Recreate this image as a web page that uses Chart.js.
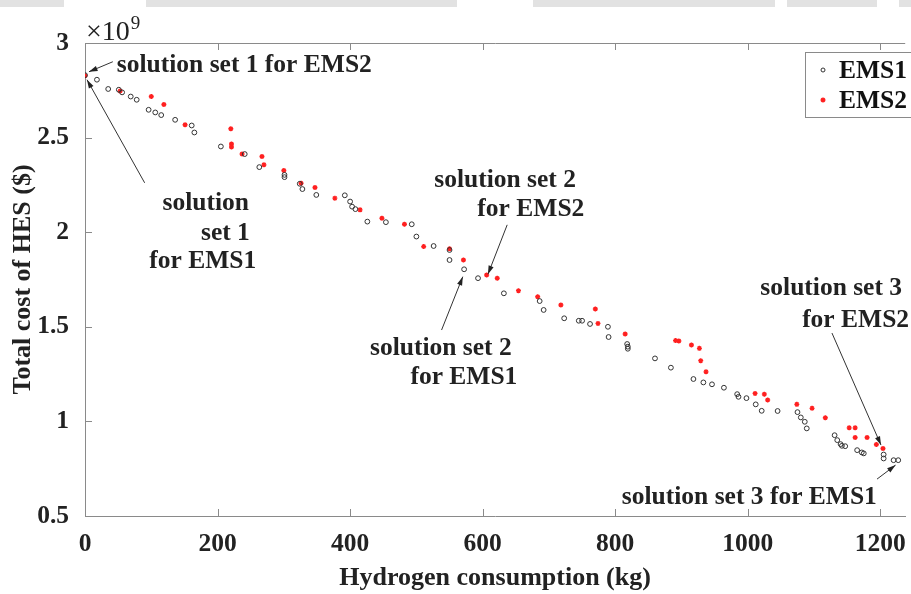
<!DOCTYPE html>
<html>
<head>
<meta charset="utf-8">
<script src="https://cdn.jsdelivr.net/npm/chart.js@4"></script>
<style>
  body { margin: 0; background: #fff; }
  #wrap { width: 911px; height: 594px; }
</style>
</head>
<body>
<div id="wrap"><canvas id="paretoChart" width="911" height="594"></canvas></div>
<script>
// Hydrogen consumption (kg) vs total cost (x10^9 $)
const ems1X = [0, 18, 35, 51, 56, 69, 78, 96, 106, 115, 136, 161, 165, 205, 241, 263, 301, 301, 324, 328,
    349, 392, 400, 403, 408, 426, 454, 493, 500, 526, 550, 550, 572, 593, 632, 686, 692, 723, 745, 750,
    762, 789, 790, 818, 819, 819, 860, 884, 918, 933, 946, 964, 984, 986, 998, 1012, 1021, 1045, 1075, 1080,
    1086, 1089, 1131, 1135, 1140, 1142, 1147, 1165, 1172, 1175, 1205, 1205, 1220, 1227];
const ems1Y = [2.83, 2.806, 2.757, 2.753, 2.739, 2.717, 2.70, 2.647, 2.633, 2.619, 2.594, 2.564, 2.527, 2.453, 2.413, 2.344, 2.303, 2.291, 2.256, 2.228,
    2.197, 2.195, 2.162, 2.135, 2.122, 2.056, 2.053, 2.042, 1.977, 1.927, 1.906, 1.853, 1.804, 1.757, 1.677, 1.636, 1.589, 1.545, 1.532, 1.532,
    1.515, 1.50, 1.446, 1.409, 1.395, 1.384, 1.333, 1.284, 1.224, 1.206, 1.196, 1.178, 1.144, 1.130, 1.123, 1.090, 1.056, 1.055, 1.049, 1.021,
    0.998, 0.963, 0.927, 0.901, 0.880, 0.871, 0.869, 0.848, 0.836, 0.831, 0.825, 0.804, 0.795, 0.795];

const ems2X = [0, 53, 100, 119, 151, 220, 221, 221, 237, 267, 270, 300, 326, 347, 377, 415, 448, 482, 511, 550,
    571, 606, 622, 654, 683, 718, 770, 774, 815, 891, 896, 915, 927, 929, 937, 1011, 1025, 1030, 1074, 1097,
    1117, 1153, 1162, 1162, 1180, 1194, 1204];
const ems2Y = [2.827, 2.746, 2.717, 2.675, 2.568, 2.547, 2.466, 2.450, 2.413, 2.40, 2.356, 2.326, 2.259, 2.236, 2.18, 2.118, 2.074, 2.042, 1.924, 1.912,
    1.853, 1.774, 1.757, 1.691, 1.659, 1.615, 1.594, 1.518, 1.462, 1.427, 1.425, 1.404, 1.386, 1.321, 1.262, 1.148, 1.144, 1.113, 1.090, 1.069,
    1.019, 0.966, 0.966, 0.915, 0.915, 0.878, 0.857];

const xTicks = [0, 200, 400, 600, 800, 1000, 1200];
const yTicks = [0.5, 1, 1.5, 2, 2.5, 3];
const seriesNames = ['EMS1', 'EMS2'];

// annotation text (data coords of left/middle) and arrows [fromX, fromY, toX, toY]
const noteTexts = [
    ['solution set 1 for EMS2', 48, 2.88],
    ['solution', 117, 2.154],
    ['set 1', 175, 1.996],
    ['for EMS1', 97, 1.843],
    ['solution set 2', 527, 2.276],
    ['for EMS2', 592, 2.122],
    ['solution set 2', 430, 1.388],
    ['for EMS1', 491, 1.235],
    ['solution set 3', 1019, 1.705],
    ['for EMS2', 1082, 1.534],
    ['solution set 3 for EMS1', 810, 0.60]
];
const noteArrows = [
    [42, 2.901, 6, 2.848],
    [90, 2.261, 3, 2.806],
    [637, 2.039, 608, 1.778],
    [538, 1.483, 570, 1.765],
    [1127, 1.467, 1201, 0.875],
    [1195, 0.695, 1223, 0.769]
];

const serif = "'Liberation Serif', 'Times New Roman', serif";

const toPoints = (xs, ys) => xs.map((x, i) => ({ x: x, y: ys[i] }));

// 프레임, 안쪽 눈금, 주석, 범례 그리기
const decorPlugin = {
    id: 'decor',
    beforeDraw(chart) {
        const ctx = chart.ctx;
        ctx.save();
        // top scan band of the source image
        ctx.fillStyle = '#e2e2e2';
        ctx.fillRect(0, 0, 911, 7);
        ctx.fillStyle = '#ffffff';
        ctx.fillRect(64, 0, 82, 7);
        ctx.fillRect(457, 0, 76, 7);
        ctx.fillRect(775, 0, 12, 7);
        ctx.fillRect(877, 0, 22, 7);
        ctx.restore();
    },
    afterDraw(chart) {
        const ctx = chart.ctx;
        const xs = chart.scales.x, ys = chart.scales.y;
        const a = chart.chartArea;
        ctx.save();
        ctx.strokeStyle = '#8a8a8a';
        ctx.lineWidth = 1;
        ctx.beginPath();
        ctx.moveTo(a.left + 0.5, a.top + 0.5);
        ctx.lineTo(a.right, a.top + 0.5);
        xs.ticks.forEach(t => {
            const px = Math.round(xs.getPixelForValue(t.value)) + 0.5;
            ctx.moveTo(px, a.bottom);
            ctx.lineTo(px, a.bottom - 7);
            ctx.moveTo(px, a.top);
            ctx.lineTo(px, a.top + 7);
        });
        ys.ticks.forEach(t => {
            const py = Math.round(ys.getPixelForValue(t.value)) + 0.5;
            ctx.moveTo(a.left, py);
            ctx.lineTo(a.left + 7, py);
        });
        ctx.stroke();

        // x10^9
        ctx.fillStyle = '#222';
        ctx.textBaseline = 'alphabetic';
        ctx.textAlign = 'left';
        ctx.font = '28px ' + serif;
        ctx.fillText('\u00d710', 86, 40);
        const w = ctx.measureText('\u00d710').width;
        ctx.font = '19px ' + serif;
        ctx.fillText('9', 86 + w + 1, 29);

        // annotation texts
        ctx.font = 'bold 25.5px ' + serif;
        ctx.textBaseline = 'middle';
        noteTexts.forEach(n => {
            ctx.fillText(n[0], xs.getPixelForValue(n[1]), ys.getPixelForValue(n[2]));
        });

        // arrows
        ctx.strokeStyle = '#333';
        ctx.fillStyle = '#222';
        noteArrows.forEach(ar => {
            const x1 = xs.getPixelForValue(ar[0]), y1 = ys.getPixelForValue(ar[1]);
            const x2 = xs.getPixelForValue(ar[2]), y2 = ys.getPixelForValue(ar[3]);
            const ang = Math.atan2(y2 - y1, x2 - x1);
            ctx.beginPath();
            ctx.moveTo(x1, y1);
            ctx.lineTo(x2, y2);
            ctx.stroke();
            ctx.beginPath();
            ctx.moveTo(x2, y2);
            ctx.lineTo(x2 - 9 * Math.cos(ang - 0.3), y2 - 9 * Math.sin(ang - 0.3));
            ctx.lineTo(x2 - 9 * Math.cos(ang + 0.3), y2 - 9 * Math.sin(ang + 0.3));
            ctx.closePath();
            ctx.fill();
        });

        // legend
        ctx.fillStyle = '#fff';
        ctx.fillRect(805.5, 52.5, 110, 65);
        ctx.strokeStyle = '#8a8a8a';
        ctx.strokeRect(805.5, 52.5, 110, 65);
        ctx.strokeStyle = '#333';
        ctx.beginPath();
        ctx.arc(823, 70, 2, 0, Math.PI * 2);
        ctx.stroke();
        ctx.strokeStyle = '#ff2020';
        ctx.lineWidth = 1.5;
        ctx.beginPath();
        for (let k = 0; k < 4; k++) {
            const an = k * Math.PI / 4;
            ctx.moveTo(823 - 2.5 * Math.cos(an), 100 - 2.5 * Math.sin(an));
            ctx.lineTo(823 + 2.5 * Math.cos(an), 100 + 2.5 * Math.sin(an));
        }
        ctx.stroke();
        ctx.fillStyle = '#111';
        ctx.font = 'bold 25.5px ' + serif;
        ctx.fillText(seriesNames[0], 839, 71);
        ctx.fillText(seriesNames[1], 839, 101);
        ctx.restore();
    }
};

const ctx = document.getElementById('paretoChart').getContext('2d');
new Chart(ctx, {
    type: 'scatter',
    data: {
        datasets: [{
            label: seriesNames[0],
            data: toPoints(ems1X, ems1Y),
            pointStyle: 'circle',
            pointRadius: 2.4,
            borderWidth: 1,
            borderColor: '#333',
            backgroundColor: 'rgba(0,0,0,0)'
        }, {
            label: seriesNames[1],
            data: toPoints(ems2X, ems2Y),
            pointStyle: 'star',
            pointRadius: 2.5,
            borderWidth: 1.4,
            borderColor: '#ff2020',
            backgroundColor: '#ff2020'
        }]
    },
    options: {
        responsive: false,
        animation: false,
        layout: { padding: { top: 43, right: 0, left: 0, bottom: 0 } },
        plugins: {
            legend: { display: false },
            tooltip: { enabled: false }
        },
        scales: {
            x: {
                type: 'linear',
                min: 0,
                max: 1237.5,
                grid: { display: false },
                border: { display: true, color: '#8a8a8a', width: 1 },
                afterBuildTicks(scale) { scale.ticks = xTicks.map(v => ({ value: v })); },
                ticks: {
                    padding: 5,
                    color: '#222',
                    font: { family: serif, size: 25.5, weight: 'bold' },
                    callback: v => String(v)
                },
                title: {
                    display: true,
                    text: 'Hydrogen consumption (kg)',
                    color: '#222',
                    padding: { top: 0, bottom: 0 },
                    font: { family: serif, size: 26, weight: 'bold' }
                },
                afterFit(scale) { scale.height = 78; }
            },
            y: {
                type: 'linear',
                min: 0.5,
                max: 3,
                grid: { display: false },
                border: { display: true, color: '#8a8a8a', width: 1 },
                afterBuildTicks(scale) { scale.ticks = yTicks.map(v => ({ value: v })); },
                ticks: {
                    padding: 8,
                    color: '#222',
                    font: { family: serif, size: 25.5, weight: 'bold' },
                    callback: v => String(v)
                },
                title: {
                    display: true,
                    text: 'Total cost of HES ($)',
                    color: '#222',
                    padding: { top: 8, bottom: 0 },
                    font: { family: serif, size: 26, weight: 'bold' }
                },
                afterFit(scale) { scale.width = 85; }
            }
        }
    },
    plugins: [decorPlugin]
});
</script>
</body>
</html>
